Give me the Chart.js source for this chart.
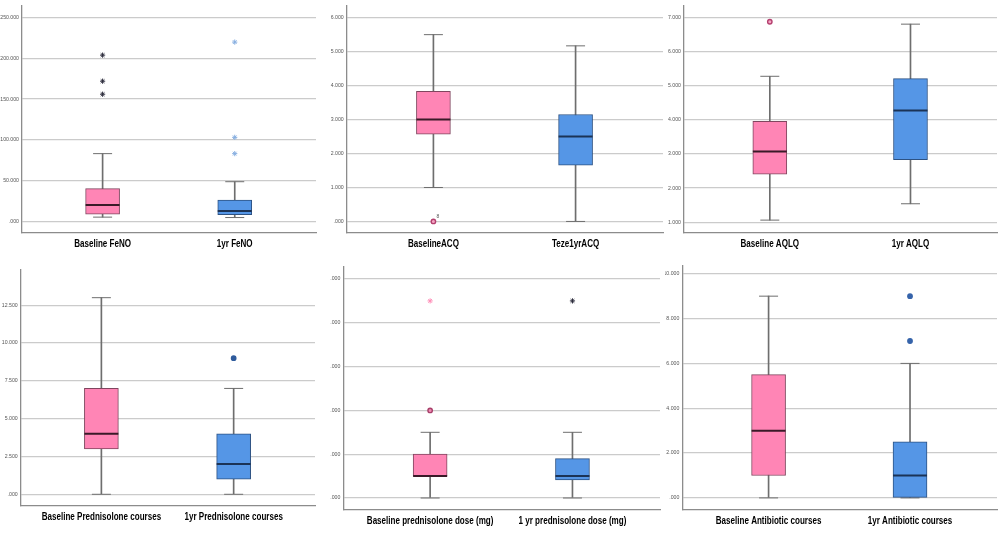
<!DOCTYPE html>
<html>
<head>
<meta charset="utf-8">
<script src="https://cdn.jsdelivr.net/npm/chart.js@4.4.0/dist/chart.umd.min.js"></script>
<style>
  html, body { margin: 0; padding: 0; background: #fff; }
  body { width: 1000px; height: 542px; position: relative; overflow: hidden; }
  .panel { position: absolute; }
</style>
</head>
<body>
<div class="panel" style="left:0;top:0;width:330px;height:260px"><canvas id="feno"></canvas></div>
<div class="panel" style="left:330px;top:0;width:335px;height:260px"><canvas id="acq"></canvas></div>
<div class="panel" style="left:665px;top:0;width:335px;height:260px"><canvas id="aqlq"></canvas></div>
<div class="panel" style="left:0;top:260px;width:330px;height:282px"><canvas id="predCourses"></canvas></div>
<div class="panel" style="left:330px;top:260px;width:335px;height:282px"><canvas id="predDose"></canvas></div>
<div class="panel" style="left:665px;top:260px;width:335px;height:282px"><canvas id="antibiotic"></canvas></div>
<script>
// ---- data ----
// box stats per group: [lower whisker, Q1, median, Q3, upper whisker]
const fenoLabels = ['Baseline FeNO', '1yr FeNO'];
const fenoTicks = [0, 50, 100, 150, 200, 250];
const fenoBaseline = [5, 8.5, 20, 40, 83];
const fenoYear = [4.5, 8, 12.5, 26, 48.5];
const fenoOutliers = [[], []];
const fenoExtremes = [[204, 172, 156], [220, 103, 83]];

const acqLabels = ['BaselineACQ', 'Teze1yrACQ'];
const acqTicks = [0, 1, 2, 3, 4, 5, 6];
const acqBaseline = [1, 2.57, 3, 3.83, 5.5];
const acqYear = [0, 1.66, 2.5, 3.15, 5.17];
const acqOutliers = [[0], []];
const acqExtremes = [[], []];
const acqCaseLabels = [['8'], []];

const aqlqLabels = ['Baseline AQLQ', '1yr AQLQ'];
const aqlqTicks = [1, 2, 3, 4, 5, 6, 7];
const aqlqBaseline = [1.06, 2.41, 3.07, 3.96, 5.28];
const aqlqYear = [1.54, 2.83, 4.28, 5.21, 6.81];
const aqlqOutliers = [[6.88], []];
const aqlqExtremes = [[], []];

const coursesLabels = ['Baseline Prednisolone courses', '1yr Prednisolone courses'];
const coursesTicks = [0, 2.5, 5, 7.5, 10, 12.5];
const coursesBaseline = [0, 3, 4, 7, 13];
const coursesYear = [0, 1, 2, 4, 7];
const coursesOutliers = [[], [9]];
const coursesExtremes = [[], []];

const doseLabels = ['Baseline prednisolone dose (mg)', '1 yr prednisolone dose (mg)'];
const doseTicks = [0, 10, 20, 30, 40, 50];
const doseBaseline = [0, 5, 5, 10, 15];
const doseYear = [0, 4.1, 5, 9, 15];
const doseOutliers = [[20], []];
const doseExtremes = [[45], [45]];

const abxLabels = ['Baseline Antibiotic courses', '1yr Antibiotic courses'];
const abxTicks = [0, 2, 4, 6, 8, 10];
const abxBaseline = [0, 1, 3, 5.5, 9];
const abxYear = [0, 0, 1, 2.5, 6];
const abxOutliers = [[], [9, 7]];
const abxExtremes = [[], []];

// ---- look ----
const PINK = '#ff85b5', BLUE = '#5596e6';
const PINK_EDGE = '#80465f', BLUE_EDGE = '#2d5283';
const PINK_MED = '#3a1a28', BLUE_MED = '#1b3356';
const WHISKER = '#6e6e6e';
const LABEL_FONT = 'bold 11.5px "Liberation Sans", Arial, sans-serif';
const LABEL_SQUEEZE = 0.7;   // the original uses a condensed bold face

function fmtTick(v) {
  return v === 0 ? '.000' : v.toFixed(3);
}

// category names under the axis, squeezed horizontally
const catLabelPlugin = {
  id: 'catLabels',
  afterDraw(chart, args, opts) {
    const { ctx, scales } = chart;
    const y = scales.x.top + opts.offset;
    ctx.save();
    ctx.font = LABEL_FONT;
    ctx.fillStyle = '#000';
    ctx.textAlign = 'center';
    ctx.textBaseline = 'middle';
    opts.labels.forEach((txt, i) => {
      const x = scales.x.getPixelForValue(i);
      ctx.save();
      ctx.translate(x, y);
      ctx.scale(LABEL_SQUEEZE, 1);
      ctx.fillText(txt, 0, 0);
      ctx.restore();
    });
    ctx.restore();
  }
};

// small case-number text next to outliers
const caseLabelPlugin = {
  id: 'caseLabels',
  afterDatasetsDraw(chart, args, opts) {
    if (!opts.labels) return;
    const { ctx, scales } = chart;
    ctx.save();
    ctx.font = '5px "Liberation Sans", Arial, sans-serif';
    ctx.fillStyle = '#555';
    opts.labels.forEach((list, gi) => {
      list.forEach((txt, k) => {
        const v = opts.values[gi][k];
        ctx.fillText(txt, scales.x.getPixelForValue(gi) + 3, scales.y.getPixelForValue(v) - 3);
      });
    });
    ctx.restore();
  }
};

function makePanel(id, p) {
  const stats = [p.base, p.year];
  const whisk = stats.map((s, i) => ({ x: i, y: [s[0], s[4]] }));
  const boxes = stats.map((s, i) => ({ x: i, y: [s[1], s[3]] }));
  const caps = [];
  stats.forEach((s, i) => { caps.push({ x: i, y: s[0] }); caps.push({ x: i, y: s[4] }); });
  const meds = stats.map((s, i) => ({ x: i, y: s[2] }));
  const outl = [], outlCol = [];
  p.outliers.forEach((list, i) => list.forEach(v => { outl.push({ x: i, y: v }); outlCol.push(p.outColors[i]); }));
  const ext = [], extCol = [];
  p.extremes.forEach((list, i) => list.forEach(v => { ext.push({ x: i, y: v }); extCol.push(p.extColors[i]); }));

  const W = p.w, H = p.h, A = p.area;

  new Chart(document.getElementById(id), {
    type: 'bar',
    data: {
      datasets: [
        { type: 'scatter', data: ext, pointStyle: 'star', pointRadius: 2.6, borderWidth: 1,
          borderColor: extCol, backgroundColor: extCol, order: 0 },
        { type: 'scatter', data: outl, pointStyle: 'circle', pointRadius: 2.2, borderWidth: 1.4,
          borderColor: outlCol, backgroundColor: p.outFill || outlCol, order: 0 },
        { type: 'scatter', data: meds, pointStyle: 'line', pointRadius: 17, borderWidth: 2,
          borderColor: [PINK_MED, BLUE_MED], order: 1 },
        { data: boxes, barThickness: 34, grouped: false, borderSkipped: false, borderWidth: 1,
          backgroundColor: [PINK, BLUE], borderColor: [PINK_EDGE, BLUE_EDGE], order: 2 },
        { type: 'scatter', data: caps, pointStyle: 'line', pointRadius: 9.5, borderWidth: 1,
          borderColor: WHISKER, order: 3 },
        { data: whisk, barThickness: 1, grouped: false, borderWidth: 0,
          backgroundColor: WHISKER, order: 4 }
      ]
    },
    options: {
      responsive: true,
      maintainAspectRatio: false,
      animation: false,
      events: [],
      layout: { autoPadding: false, padding: { left: 0, top: A.top, right: W - A.right, bottom: 0 } },
      plugins: {
        legend: { display: false },
        tooltip: { enabled: false },
        caseLabels: { labels: p.caseLabels || null, values: p.outliers },
        catLabels: { labels: p.labels, offset: p.labelOffset || 11 }
      },
      scales: {
        x: {
          type: 'linear',
          offset: false,
          min: -0.61, max: 1.615,
          afterBuildTicks: s => { s.ticks = [{ value: 0 }, { value: 1 }]; },
          afterFit: s => { s.height = H - A.bottom; },
          grid: { display: false, drawTicks: false },
          border: { display: true, color: '#8c8c8c', width: 1.3 },
          ticks: { display: false }
        },
        y: {
          min: p.yMin, max: p.yMax,
          afterBuildTicks: s => { s.ticks = p.ticks.map(v => ({ value: v })); },
          afterFit: s => { s.width = A.left; },
          grid: { color: '#cbcbcb', lineWidth: 1.2, drawTicks: false },
          border: { display: true, color: '#8c8c8c', width: 1.3 },
          ticks: {
            padding: 3,
            autoSkip: false,
            color: '#555',
            font: { family: '"Liberation Sans", Arial, sans-serif', size: 5.2 },
            callback: v => fmtTick(v)
          }
        }
      }
    },
    plugins: [caseLabelPlugin, catLabelPlugin]
  });
}

makePanel('feno', {
  w: 330, h: 260, area: { left: 22, top: 3, right: 316, bottom: 233 },
  yMin: -14.5, yMax: 264.2, ticks: fenoTicks, labels: fenoLabels,
  base: fenoBaseline, year: fenoYear, outliers: fenoOutliers, extremes: fenoExtremes,
  outColors: ['#333', '#333'], extColors: ['#2a2a3a', '#86aee0'], labelOffset: 10.5
});
makePanel('acq', {
  w: 335, h: 260, area: { left: 16.7, top: 3, right: 333, bottom: 233 },
  yMin: -0.34, yMax: 6.34, ticks: acqTicks, labels: acqLabels,
  base: acqBaseline, year: acqYear, outliers: acqOutliers, extremes: acqExtremes,
  outColors: ['#b4406f', '#2d5283'], outFill: '#f5a3c3', extColors: ['#333', '#333'],
  caseLabels: acqCaseLabels, labelOffset: 10.5
});
makePanel('aqlq', {
  w: 335, h: 260, area: { left: 19, top: 3, right: 332, bottom: 233 },
  yMin: 0.682, yMax: 7.339, ticks: aqlqTicks, labels: aqlqLabels,
  base: aqlqBaseline, year: aqlqYear, outliers: aqlqOutliers, extremes: aqlqExtremes,
  outColors: ['#b4406f', '#2d5283'], outFill: '#f5a3c3', extColors: ['#333', '#333'], labelOffset: 10.5
});
makePanel('predCourses', {
  w: 330, h: 282, area: { left: 20.7, top: 10, right: 315, bottom: 246 },
  yMin: -0.774, yMax: 14.83, ticks: coursesTicks, labels: coursesLabels,
  base: coursesBaseline, year: coursesYear, outliers: coursesOutliers, extremes: coursesExtremes,
  outColors: ['#b4406f', '#2f5b9c'], extColors: ['#333', '#333'], labelOffset: 11
});
makePanel('predDose', {
  w: 335, h: 282, area: { left: 13.3, top: 6.7, right: 330, bottom: 249.3 },
  yMin: -2.58, yMax: 52.81, ticks: doseTicks, labels: doseLabels,
  base: doseBaseline, year: doseYear, outliers: doseOutliers, extremes: doseExtremes,
  outColors: ['#a8406a', '#2f5b9c'], outFill: '#f08ab3', extColors: ['#ff8fb8', '#2a2a3a'], labelOffset: 11.5
});
makePanel('antibiotic', {
  w: 335, h: 282, area: { left: 17.3, top: 2, right: 332, bottom: 250 },
  yMin: -0.54, yMax: 10.34, ticks: abxTicks, labels: abxLabels,
  base: abxBaseline, year: abxYear, outliers: abxOutliers, extremes: abxExtremes,
  outColors: ['#b4406f', '#3563aa'], extColors: ['#333', '#333'], labelOffset: 11
});
</script>
</body>
</html>
